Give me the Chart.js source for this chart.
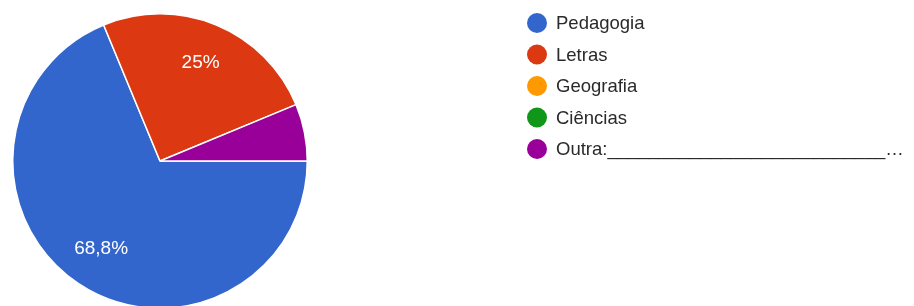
<!DOCTYPE html>
<html>
<head>
<meta charset="utf-8">
<script src="https://cdn.jsdelivr.net/npm/chart.js@4"></script>
<style>
  html, body { margin: 0; padding: 0; background: #fff; overflow: hidden; }
  #wrap { width: 914px; height: 306px; overflow: hidden; position: relative; }
  canvas { display: block; }
</style>
</head>
<body>
<div id="wrap"><canvas id="pieChart" width="914" height="320"></canvas></div>
<script>
const categories = ["Pedagogia", "Letras", "Geografia", "Ciências", "Outra:___________________________…"];
const counts = [11, 4, 0, 0, 1];
const sliceLabels = ["68,8%", "25%", "", "", ""];
const colors = ["#3366cc", "#dc3912", "#ff9900", "#109618", "#990099"];

// draws the percentage text inside the big slices
const sliceText = {
  id: "sliceText",
  afterDatasetsDraw(chart) {
    const ctx = chart.ctx;
    const meta = chart.getDatasetMeta(0);
    ctx.save();
    ctx.fillStyle = "#ffffff";
    ctx.font = "19px 'Liberation Sans', Arial";
    ctx.textAlign = "center";
    ctx.textBaseline = "middle";
    meta.data.forEach((arc, i) => {
      if (!sliceLabels[i]) return;
      const mid = (arc.startAngle + arc.endAngle) / 2;
      const r = arc.outerRadius * 0.72;
      ctx.fillText(sliceLabels[i], arc.x + Math.cos(mid) * r, arc.y + Math.sin(mid) * r);
    });
    ctx.restore();
  }
};

// legend on the right, one circle and label per category
const sideLegend = {
  id: "sideLegend",
  afterDraw(chart) {
    const ctx = chart.ctx;
    ctx.save();
    ctx.font = "18.5px 'Liberation Sans', Arial";
    ctx.textBaseline = "middle";
    categories.forEach((name, i) => {
      const y = 23 + i * 31.5;
      ctx.fillStyle = colors[i];
      ctx.beginPath();
      ctx.arc(537, y, 10, 0, Math.PI * 2);
      ctx.fill();
      ctx.fillStyle = "#2a2a2a";
      ctx.fillText(name, 556, y + 1);
    });
    ctx.restore();
  }
};

new Chart(document.getElementById("pieChart").getContext("2d"), {
  type: "pie",
  data: {
    labels: categories,
    datasets: [{
      data: counts,
      backgroundColor: colors,
      borderColor: "#ffffff",
      borderWidth: 1.5
    }]
  },
  options: {
    responsive: false,
    animation: false,
    rotation: 90,
    layout: { padding: { left: 12, top: 13, right: 606, bottom: 11 } },
    plugins: {
      legend: { display: false },
      tooltip: { enabled: false }
    }
  },
  plugins: [sliceText, sideLegend]
});
</script>
</body>
</html>
